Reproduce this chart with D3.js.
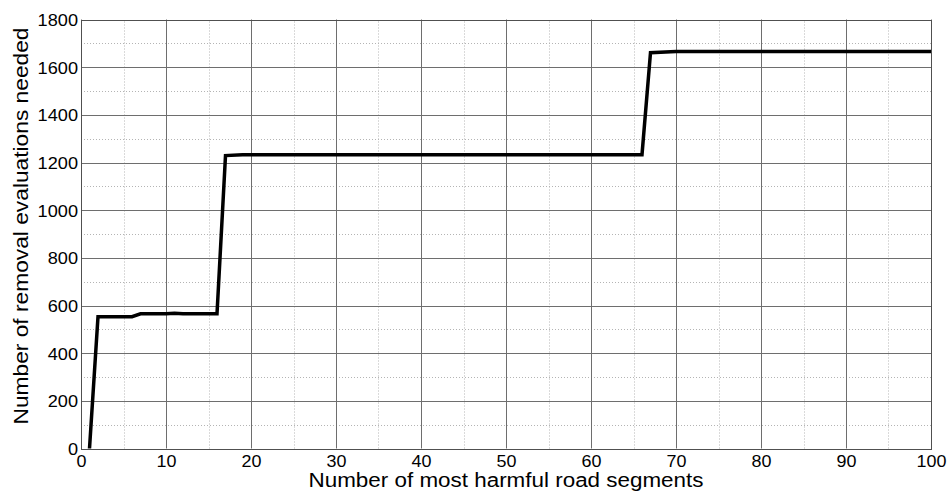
<!DOCTYPE html>
<html>
<head>
<meta charset="utf-8">
<script src="https://cdn.jsdelivr.net/npm/d3@7"></script>
<style>
  html, body { margin: 0; padding: 0; background: #fff; }
  svg text { font-family: "Liberation Sans", Arial, sans-serif; fill: #000; }
</style>
</head>
<body>
<svg id="chart" width="948" height="491"></svg>
<script>
// Number of most harmful road segments (x) vs. removal evaluations needed (y)
const segments    = [1, 2, 6, 7, 10, 11, 12, 16, 17, 19, 66, 67, 70, 100];
const evaluations = [0, 553, 553, 565, 565, 567, 565, 565, 1229, 1233, 1233, 1661, 1666, 1666];

const xTicks = [0, 10, 20, 30, 40, 50, 60, 70, 80, 90, 100];
const yTicks = [0, 200, 400, 600, 800, 1000, 1200, 1400, 1600, 1800];
const xMinor = [5, 15, 25, 35, 45, 55, 65, 75, 85, 95];
const yMinor = [100, 300, 500, 700, 900, 1100, 1300, 1500, 1700];

const xTitle = "Number of most harmful road segments";
const yTitle = "Number of removal evaluations needed";

const svg = d3.select("#chart");
const W = 948, H = 491;
const margin = { left: 81, right: W - 931, top: 19.5, bottom: H - 448.5 };

const x = d3.scaleLinear().domain([0, 100]).range([margin.left, W - margin.right]);
const y = d3.scaleLinear().domain([0, 1800]).range([H - margin.bottom, margin.top]);
const px = v => Math.round(v) + 0.5;

// widen glyphs slightly, the labels use a broad sans face
function widen(sel, k) {
  sel.each(function () {
    const len = this.getComputedTextLength();
    d3.select(this).attr("textLength", len * k).attr("lengthAdjust", "spacingAndGlyphs");
  });
}

const g = svg.append("g");

// minor dotted grid
g.selectAll(".xminor").data(xMinor).join("line")
  .attr("x1", d => px(x(d))).attr("x2", d => px(x(d)))
  .attr("y1", y(0)).attr("y2", y(1800))
  .attr("stroke", "#b4b4b4").attr("stroke-width", 1).attr("stroke-dasharray", "1,2");
g.selectAll(".yminor").data(yMinor).join("line")
  .attr("y1", d => px(y(d))).attr("y2", d => px(y(d)))
  .attr("x1", x(0)).attr("x2", x(100))
  .attr("stroke", "#b4b4b4").attr("stroke-width", 1).attr("stroke-dasharray", "1,2");

// major solid grid
g.selectAll(".xmajor").data(xTicks).join("line")
  .attr("x1", d => px(x(d))).attr("x2", d => px(x(d)))
  .attr("y1", y(0)).attr("y2", y(1800))
  .attr("stroke", "#6e6e6e").attr("stroke-width", 1);
g.selectAll(".ymajor").data(yTicks).join("line")
  .attr("y1", d => px(y(d))).attr("y2", d => px(y(d)))
  .attr("x1", x(0)).attr("x2", x(100))
  .attr("stroke", "#6e6e6e").attr("stroke-width", 1);

// frame
g.append("rect")
  .attr("x", px(x(0))).attr("y", px(y(1800)))
  .attr("width", Math.round(x(100)) - Math.round(x(0)))
  .attr("height", Math.round(y(0)) - Math.round(y(1800)))
  .attr("fill", "none").attr("stroke", "#505050").attr("stroke-width", 1);

// tick labels
const xAxis = d3.axisBottom(x).tickValues(xTicks).tickSize(0).tickPadding(0).tickFormat(d3.format("d"));
const xa = svg.append("g").attr("transform", `translate(0,${y(0)})`).call(xAxis);
xa.select(".domain").remove();
xa.selectAll("text").attr("font-size", 16).attr("dy", null).attr("y", 18)
  .attr("font-family", "Liberation Sans, Arial, sans-serif").attr("fill", "#000");
widen(xa.selectAll("text"), 1.12);

const yAxis = d3.axisLeft(y).tickValues(yTicks).tickSize(0).tickPadding(0).tickFormat(d3.format("d"));
const ya = svg.append("g").attr("transform", `translate(${x(0) - 3},0)`).call(yAxis);
ya.select(".domain").remove();
ya.selectAll("text").attr("font-size", 16.5).attr("dy", "0.36em")
  .attr("font-family", "Liberation Sans, Arial, sans-serif").attr("fill", "#000");
widen(ya.selectAll("text"), 1.1);

// axis titles
svg.append("text").attr("x", 506).attr("y", 487).attr("text-anchor", "middle")
  .attr("font-size", 19.5).attr("textLength", 395).attr("lengthAdjust", "spacingAndGlyphs")
  .text(xTitle);
svg.append("text").attr("transform", "translate(28,226) rotate(-90)")
  .attr("text-anchor", "middle").attr("font-size", 19.5)
  .attr("textLength", 397).attr("lengthAdjust", "spacingAndGlyphs")
  .text(yTitle);

// data line
const line = d3.line().x((d, i) => x(segments[i])).y(d => y(d));
g.append("path").datum(evaluations)
  .attr("d", line).attr("fill", "none")
  .attr("stroke", "#000").attr("stroke-width", 3.5)
  .attr("stroke-linejoin", "miter");
</script>
</body>
</html>
